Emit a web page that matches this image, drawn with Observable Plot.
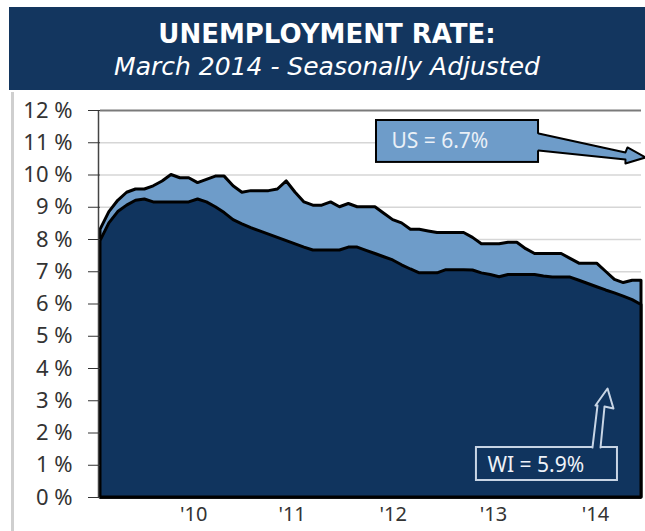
<!DOCTYPE html>
<html><head><meta charset="utf-8">
<script src="https://cdn.jsdelivr.net/npm/d3@7"></script>
<script src="https://cdn.jsdelivr.net/npm/@observablehq/plot@0.6"></script>
<style>
body{margin:0;background:#fff;width:645px;height:531px;overflow:hidden;position:relative;font-family:"DejaVu Sans",sans-serif}
#banner{position:absolute;left:9px;top:7px;width:636px;height:83px;background:#13365f;color:#fff;text-align:center}
#banner .t{font-weight:bold;font-size:26px;position:absolute;left:0;right:0;top:12px;line-height:30px}
#banner .s{font-style:italic;font-size:25px;position:absolute;left:0;right:0;top:45px;line-height:30px}
#edge{position:absolute;left:11px;top:92px;width:3px;height:439px;background:#cfcfcf}
#chart{position:absolute;left:0;top:92px}
</style></head>
<body>
<div id="banner"><div class="t">UNEMPLOYMENT RATE:</div><div class="s">March 2014 - Seasonally Adjusted</div></div>
<div id="edge"></div>
<div id="chart"></div>
<script>
// Monthly series, Feb 2009 .. Mar 2014 (index 0..61)
const usRate = [8.3,8.85,9.2,9.45,9.55,9.55,9.65,9.8,10.0,9.9,9.9,9.75,9.85,9.95,9.95,9.65,9.45,9.5,9.5,9.5,9.55,9.8,9.45,9.15,9.05,9.05,9.15,9.0,9.1,9.0,9.0,9.0,8.8,8.6,8.5,8.3,8.3,8.25,8.2,8.2,8.2,8.2,8.05,7.85,7.85,7.85,7.9,7.9,7.7,7.55,7.55,7.55,7.55,7.4,7.25,7.25,7.25,7.0,6.75,6.65,6.72,6.72];
const wiRate = [7.95,8.5,8.85,9.05,9.2,9.24,9.15,9.15,9.15,9.15,9.15,9.24,9.15,9.0,8.82,8.6,8.47,8.35,8.25,8.15,8.05,7.95,7.85,7.75,7.66,7.66,7.66,7.66,7.75,7.75,7.65,7.55,7.45,7.35,7.2,7.07,6.95,6.95,6.95,7.05,7.05,7.05,7.04,6.95,6.9,6.83,6.9,6.9,6.9,6.9,6.85,6.82,6.82,6.82,6.72,6.62,6.52,6.42,6.33,6.23,6.12,5.97];
const yTicks = [0,1,2,3,4,5,6,7,8,9,10,11,12];
const xTickPos = [10.5,21.6,33.0,44.3,55.8];
const xTickLabels = ["'10","'11","'12","'13","'14"];
const usLabel = "US = 6.7%";
const wiLabel = "WI = 5.9%";

// annotation geometry in data units (month index, percent)
const usBox = {x1:31.12, x2:49.39, y1:10.39, y2:11.69, tx:32.8, ty:11.04};
const usArrow = [[49.2,11.287],[59.19,10.698],[59.42,10.853],[61.45,10.543],[59.19,10.357],[59.19,10.481],[49.2,10.760]];
const wiBox = {x1:42.39, x2:58.29, y1:0.527, y2:1.55, tx:43.63, ty:0.99};
const wiArrow = [[55.47,1.50],[56.04,2.853],[55.81,2.853],[57.17,3.38],[57.84,2.76],[56.83,2.822],[56.38,1.50]];

const rows = usRate.map((u,i)=>({i, us:u, wi:wiRate[i]}));
const pts = a => a.map(([x,y])=>({x,y}));

const usFill = "#6e9cc9", wiFill = "#10345e";

const plot = Plot.plot({
  width: 645, height: 439,
  marginTop: 18, marginBottom: 34, marginLeft: 100, marginRight: 4,
  x: {domain: [0, 61]},
  y: {domain: [0, 12]},
  style: {fontFamily: "Noto Sans", background: "transparent", overflow: "visible"},
  marks: [
    Plot.ruleY(yTicks.slice(1,-1), {stroke: "#d6d6d6", strokeWidth: 1.5}),
    Plot.areaY(rows, {x: "i", y: "us", fill: usFill, stroke: "#000", strokeWidth: 3, strokeLinejoin: "round"}),
    Plot.areaY(rows, {x: "i", y: "wi", fill: wiFill, stroke: "#000", strokeWidth: 3, strokeLinejoin: "round"}),
    Plot.ruleY([12], {stroke: "#7a7a7a", strokeWidth: 2}),
    Plot.ruleY([0], {stroke: "#000", strokeWidth: 2.5}),
    Plot.ruleX([0], {y1: 0, y2: 12, stroke: "#444", strokeWidth: 1.5, dx: -2}),
    Plot.axisY({ticks: yTicks, tickFormat: d => d + " %", tickSize: 12, tickPadding: 16, fontSize: 22, color: "#333"}),
    Plot.axisX({ticks: xTickPos, tickFormat: d => xTickLabels[xTickPos.indexOf(d)], tickSize: 0, tickPadding: 9, fontSize: 20, color: "#333"}),
    // US callout
    Plot.rect([usBox], {x1: "x1", x2: "x2", y1: "y1", y2: "y2", fill: usFill, stroke: "#000", strokeWidth: 2}),
    Plot.line(pts(usArrow), {x: "x", y: "y", fill: usFill, stroke: "none"}),
    Plot.line(pts([[49.39,11.287]].concat(usArrow.slice(1,-1)).concat([[49.39,10.760]])), {x: "x", y: "y", stroke: "#000", strokeWidth: 2, fill: "none"}),
    Plot.text([usBox], {x: "tx", y: "ty", text: () => usLabel, textAnchor: "start", fill: "#eaf0f7", fontSize: 21}),
    // WI callout
    Plot.rect([wiBox], {x1: "x1", x2: "x2", y1: "y1", y2: "y2", fill: wiFill, stroke: "#c8d5e5", strokeWidth: 2}),
    Plot.line(pts(wiArrow), {x: "x", y: "y", fill: wiFill, stroke: "none"}),
    Plot.line(pts([[55.47,1.55]].concat(wiArrow.slice(1,-1)).concat([[56.38,1.55]])), {x: "x", y: "y", stroke: "#c8d5e5", strokeWidth: 2, fill: "none"}),
    Plot.text([wiBox], {x: "tx", y: "ty", text: () => wiLabel, textAnchor: "start", fill: "#eef2f8", fontSize: 21})
  ]
});
document.getElementById("chart").appendChild(plot);
</script>
</body></html>
